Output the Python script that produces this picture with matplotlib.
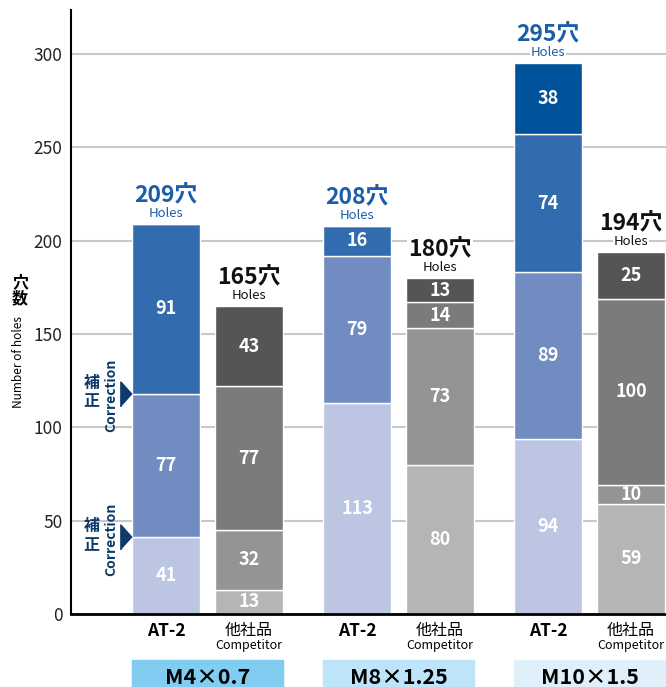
import numpy as np
import matplotlib.pyplot as plt
from matplotlib.transforms import blended_transform_factory

plt.rcParams['font.family'] = ['Noto Sans CJK JP', 'DejaVu Sans']

# data
groups = ['M4×0.7', 'M8×1.25', 'M10×1.5']
at2_layers = [[41, 113, 94],
              [77, 79, 89],
              [91, 16, 74],
              [0, 0, 38]]
comp_layers = [[13, 80, 59],
               [32, 73, 10],
               [77, 14, 100],
               [43, 13, 25]]
at2_totals = [209, 208, 295]
comp_totals = [165, 180, 194]
yticks = [0, 50, 100, 150, 200, 250, 300]
correction_points = [41, 118]

at2_colors = ['#bcc6e3', '#708cc0', '#336cae', '#00529b']
comp_colors = ['#b4b5b4', '#949494', '#7b7b7b', '#575554']
box_colors = ['#80cdf1', '#bde4f8', '#dff0fb']
blue_txt = '#1a5ea8'
navy = '#0d3a6a'

fig = plt.figure(figsize=(6.66, 6.87), dpi=100)
ax = fig.add_axes([71 / 666, 73 / 687, 595 / 666, 604 / 687])

g = np.arange(len(groups))
w = 0.356
x_at2 = g
x_comp = g + 0.4346

def stack(xpos, layers, colors):
    bottom = np.zeros(len(groups))
    for vals, c in zip(layers, colors):
        vals = np.array(vals, dtype=float)
        ax.bar(xpos, vals, w, bottom=bottom, color=c, edgecolor='white',
               linewidth=1, zorder=2)
        for xi, v, b in zip(xpos, vals, bottom):
            if v > 0:
                ax.text(xi, b + v / 2, str(int(v)), ha='center', va='center',
                        color='white', fontsize=13, fontweight='bold', zorder=4)
        bottom = bottom + vals

stack(x_at2, at2_layers, at2_colors)
stack(x_comp, comp_layers, comp_colors)

def totals(xpos, vals, color):
    for xi, v in zip(xpos, vals):
        ax.annotate(f'{v}穴', (xi, v), xytext=(0, 20.5), textcoords='offset points',
                    ha='center', va='center', fontsize=16.5, fontweight='bold',
                    color=color, zorder=5,
                    bbox=dict(boxstyle='square,pad=0.05', fc='white', ec='none'))
        ax.annotate('Holes', (xi, v), xytext=(0, 7.5), textcoords='offset points',
                    ha='center', va='center', fontsize=9.5, color=color, zorder=5,
                    bbox=dict(boxstyle='square,pad=0.05', fc='white', ec='none'))

totals(x_at2, at2_totals, blue_txt)
totals(x_comp, comp_totals, '#111111')

ax.set_xlim(-0.497, 2.618)
ax.set_ylim(0, 323.6)
ax.set_yticks(yticks)
ax.set_xticks([])
ax.tick_params(axis='y', length=0, pad=6, labelsize=12.5, labelcolor='#222222')
ax.grid(axis='y', color='#c8c8c8', linewidth=1.5, zorder=0)
ax.set_axisbelow(True)
for s in ['top', 'right']:
    ax.spines[s].set_visible(False)
ax.spines['left'].set_linewidth(1.5)
ax.spines['bottom'].set_linewidth(2)

# correction markers
tri_x = x_at2[0] - w / 2 - 0.03
for yc in correction_points:
    ax.plot(tri_x, yc, marker=[(-0.45, -1), (-0.45, 1), (0.45, 0)], markersize=18,
            color=navy, clip_on=False, zorder=5)
    ax.annotate('補', (tri_x, yc), xytext=(-25, 8), textcoords='offset points',
                ha='center', va='center', fontsize=11.5, fontweight='bold', color=navy,
                annotation_clip=False)
    ax.annotate('正', (tri_x, yc), xytext=(-25, -5.5), textcoords='offset points',
                ha='center', va='center', fontsize=11.5, fontweight='bold', color=navy,
                annotation_clip=False)
    ax.annotate('Correction', (tri_x, yc), xytext=(-11, -1), textcoords='offset points',
                ha='center', va='center', fontsize=10, fontweight='bold', color=navy,
                rotation=90, annotation_clip=False)

# y label
fig.text(20 / 666, 1 - 282 / 687, '穴', ha='center', va='center', fontsize=11.5, fontweight='bold')
fig.text(20 / 666, 1 - 298 / 687, '数', ha='center', va='center', fontsize=11.5, fontweight='bold')
fig.text(19 / 666, 1 - 362 / 687, 'Number of holes', ha='center', va='center',
         fontsize=8.5, rotation=90)

# bottom labels
tr = blended_transform_factory(ax.transData, fig.transFigure)
for i in range(len(groups)):
    ax.text(x_at2[i], 1 - 631 / 687, 'AT-2', transform=tr, ha='center', va='center',
            fontsize=12.5, fontweight='bold')
    ax.text(x_comp[i], 1 - 630 / 687, '他社品', transform=tr, ha='center', va='center',
            fontsize=11.5)
    ax.text(x_comp[i], 1 - 646 / 687, 'Competitor', transform=tr, ha='center',
            va='center', fontsize=9)
    left = x_at2[i] - w / 2
    right = x_comp[i] + w / 2
    ax.add_patch(plt.Rectangle((left, 0), right - left, 27 / 687, transform=tr,
                               color=box_colors[i], clip_on=False, zorder=1))
    ax.text((left + right) / 2, 1 - 677 / 687, groups[i], transform=tr, ha='center',
            va='center', fontsize=15.5, fontweight='bold', zorder=2)

fig.savefig('out.png', dpi=100)
